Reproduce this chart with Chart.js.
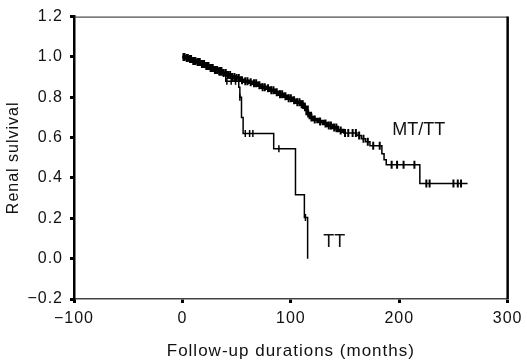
<!DOCTYPE html>
<html>
<head>
<meta charset="utf-8">
<script src="https://cdn.jsdelivr.net/npm/chart.js@4"></script>
<style>
  html, body { margin: 0; padding: 0; background: #fff; }
  #wrap { width: 527px; height: 362px; }
</style>
</head>
<body>
<div id="wrap"><canvas id="chart" width="527" height="362"></canvas></div>
<script>
// Kaplan-Meier steps (months, survival)
const mtTimes = [0, 3, 6, 9, 13, 17, 21, 25, 29, 33, 37, 41, 45, 49, 53, 57, 61, 65, 69, 73, 77, 81, 85, 89, 93, 97, 101, 105, 109, 112, 115, 118, 121, 125, 130, 134, 138, 143, 148, 161, 165, 169, 173, 184, 186, 188, 219, 263];
const mtSurv  = [1.00, 0.995, 0.99, 0.98, 0.975, 0.965, 0.955, 0.945, 0.935, 0.93, 0.92, 0.91, 0.90, 0.895, 0.885, 0.88, 0.875, 0.87, 0.86, 0.85, 0.845, 0.835, 0.825, 0.815, 0.805, 0.795, 0.785, 0.775, 0.765, 0.75, 0.72, 0.70, 0.69, 0.68, 0.67, 0.66, 0.65, 0.635, 0.623, 0.61, 0.595, 0.58, 0.56, 0.52, 0.49, 0.465, 0.372, 0.372];
const mtCensored = [1, 2, 4, 5, 7, 8, 10, 11, 12, 14, 15, 16, 18, 19, 20, 22, 23, 24, 26, 27, 28, 30, 31, 32, 34, 35, 36, 38, 40, 42, 44, 46, 48, 50, 52, 55, 58, 60, 63, 66, 68, 71, 74, 76, 79, 82, 84, 87, 90, 92, 95, 98, 100, 103, 106, 108, 110, 111, 113, 116, 119, 122, 127, 132, 135, 137, 140, 142, 146, 150, 153, 157, 160, 163, 167, 171, 176, 182, 193, 198, 204, 214, 225, 228, 250, 254, 257];

const ttTimes = [0, 6, 14, 24, 34, 40, 52, 53, 54.5, 56, 84.2, 104.3, 112.5, 115.5];
const ttSurv  = [1.0, 0.985, 0.965, 0.94, 0.91, 0.88, 0.85, 0.80, 0.70, 0.62, 0.545, 0.317, 0.204, 0.0];
const ttCensored = [41, 45, 49, 53, 58, 62, 65, 89, 113.5];

const xTicks = [-100, 0, 100, 200, 300];
const yTicks = [-0.2, 0.0, 0.2, 0.4, 0.6, 0.8, 1.0, 1.2];

const curveLabels = [
  { text: 'MT/TT', x: 218, y: 0.64 },
  { text: 'TT', x: 140, y: 0.083 }
];

function stepPoints(times, surv) {
  return times.map((t, i) => ({ x: t, y: surv[i] }));
}
// y of a censor mark = survival at that time on its own curve
function survAt(times, surv, t) {
  let s = surv[0];
  for (let i = 0; i < times.length; i++) if (times[i] <= t) s = surv[i];
  return s;
}
function censorPoints(cens, times, surv) {
  return cens.map(t => ({ x: t, y: survAt(times, surv, t) }));
}

const frame = {
  id: 'frame',
  beforeDraw(chart) { chart.ctx.letterSpacing = '1px'; },
  afterDraw(chart) {
    const { ctx, chartArea: a, scales } = chart;
    ctx.save();
    ctx.strokeStyle = '#222';
    ctx.lineWidth = 1;
    ctx.beginPath(); ctx.moveTo(a.left, a.top + 0.5); ctx.lineTo(a.right, a.top + 0.5); ctx.stroke();
    ctx.strokeStyle = '#000';
    ctx.lineWidth = 2.5;
    ctx.beginPath(); ctx.moveTo(a.right, a.top); ctx.lineTo(a.right, a.bottom); ctx.stroke();
    ctx.letterSpacing = '0px';
    ctx.fillStyle = '#111';
    ctx.font = '18px "Liberation Sans", Arial, sans-serif';
    ctx.textAlign = 'center';
    ctx.textBaseline = 'middle';
    curveLabels.forEach(l => {
      ctx.fillText(l.text, scales.x.getPixelForValue(l.x), scales.y.getPixelForValue(l.y));
    });
    ctx.restore();
  }
};

Chart.defaults.font.family = '"Liberation Sans", Arial, sans-serif';
Chart.defaults.color = '#111';

new Chart(document.getElementById('chart'), {
  type: 'scatter',
  data: {
    datasets: [
      { label: 'MT/TT', data: stepPoints(mtTimes, mtSurv), showLine: true, stepped: true,
        borderColor: '#000', borderWidth: 2, pointRadius: 0,
        // the dense censoring makes the early part of this curve look heavy
        segment: { borderWidth: c => c.p0.parsed.x < 145 ? 3.5 : 1.5 } },
      { label: 'TT', data: stepPoints(ttTimes, ttSurv), showLine: true, stepped: true,
        borderColor: '#000', borderWidth: 1.5, pointRadius: 0 },
      { label: 'MT/TT censored', data: censorPoints(mtCensored, mtTimes, mtSurv), showLine: false,
        pointStyle: 'line', rotation: 90, pointRadius: 4, borderColor: '#000', borderWidth: 2 },
      { label: 'TT censored', data: censorPoints(ttCensored, ttTimes, ttSurv), showLine: false,
        pointStyle: 'line', rotation: 90, pointRadius: 3.5, borderColor: '#000', borderWidth: 1.5 }
    ]
  },
  options: {
    responsive: false,
    animation: false,
    layout: { padding: { top: 14, right: 15, left: 0, bottom: 0 } },
    plugins: { legend: { display: false }, tooltip: { enabled: false } },
    scales: {
      x: {
        type: 'linear', min: -100, max: 300,
        afterBuildTicks: s => { s.ticks = xTicks.map(v => ({ value: v })); },
        afterFit: s => { s.height = 63; },
        grid: { display: true, drawOnChartArea: false, tickLength: 4, tickWidth: 3, color: '#000' },
        border: { display: true, color: '#444', width: 1.5 },
        ticks: { font: { size: 16 }, padding: 6, callback: v => (v < 0 ? '\u2212' : '') + Math.abs(v) },
        title: { display: true, text: 'Follow-up durations (months)', font: { size: 17 }, padding: { top: 0, bottom: 0 } }
      },
      y: {
        type: 'linear', min: -0.2, max: 1.2,
        afterBuildTicks: s => { s.ticks = yTicks.map(v => ({ value: v })); },
        afterFit: s => { s.width = 74; },
        grid: { display: true, drawOnChartArea: false, tickLength: 4, tickWidth: 3, color: '#000' },
        border: { display: true, color: '#000', width: 2.5 },
        ticks: { font: { size: 16 }, padding: 7, callback: v => (v < 0 ? '\u2212' : '') + Math.abs(v).toFixed(1) },
        title: { display: true, text: 'Renal sulvival', font: { size: 16 }, padding: { top: 4, bottom: 0 } }
      }
    }
  },
  plugins: [frame]
});
</script>
</body>
</html>
